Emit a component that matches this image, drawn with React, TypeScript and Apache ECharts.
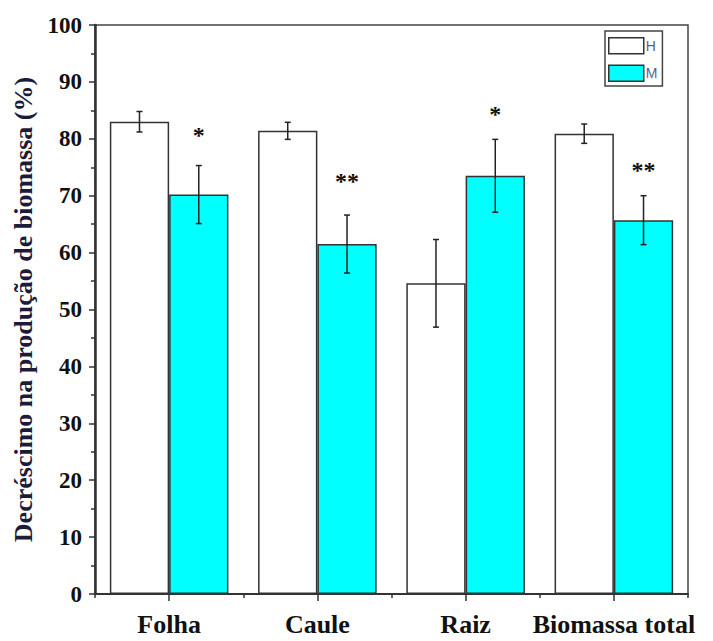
import React, { useEffect, useRef } from "react";
import * as echarts from "echarts";

const categories = ["Folha", "Caule", "Raiz", "Biomassa total"];
const seriesNames = ["H", "M"];
const valuesH = [83.0, 81.4, 54.6, 80.9];
const errorsH = [1.8, 1.5, 7.7, 1.7];
const valuesM = [70.2, 61.5, 73.5, 65.7];
const errorsM = [5.1, 5.1, 6.4, 4.3];
const starText = ["*", "**", "*", "**"];
const starLevels = [81.4, 73.2, 85.1, 75.2];
const yTicks = { min: 0, max: 100, interval: 10 };

const SERIF = "'Liberation Serif', 'Times New Roman', serif";

export default function App() {
  const ref = useRef<HTMLDivElement>(null);
  useEffect(() => {
    if (!ref.current) return;
    const chart = echarts.init(ref.current, null, { renderer: "svg" });

    const errData = (vals: number[], errs: number[]) =>
      vals.map((v, i) => [i, v, v - errs[i], v + errs[i]]);

    const errorRender = (side: number) => (params: any, api: any) => {
      const i = api.value(0);
      const band = api.size([1, 0])[0];
      const cx = api.coord([i, 0])[0] + side * band * 0.2;
      const lo = api.coord([i, api.value(2)])[1];
      const hi = api.coord([i, api.value(3)])[1];
      const cap = 3;
      const st = { stroke: "#222", lineWidth: 1.5 };
      return {
        type: "group",
        children: [
          { type: "line", shape: { x1: cx, y1: lo, x2: cx, y2: hi }, style: st },
          { type: "line", shape: { x1: cx - cap, y1: lo, x2: cx + cap, y2: lo }, style: st },
          { type: "line", shape: { x1: cx - cap, y1: hi, x2: cx + cap, y2: hi }, style: st },
        ],
      };
    };

    chart.setOption({
      animation: false,
      grid: {
        left: 95,
        right: 25,
        top: 25,
        bottom: 47,
        show: true,
        borderColor: "#444",
        borderWidth: 1.5,
        backgroundColor: "transparent",
      },
      legend: {
        data: seriesNames,
        orient: "vertical",
        left: 605,
        top: 31,
        icon: "rect",
        itemWidth: 35,
        itemHeight: 16,
        itemGap: 10,
        padding: [6, 5, 4, 3],
        borderColor: "#444",
        borderWidth: 1.5,
        textStyle: { fontSize: 14, color: "#56648c", fontFamily: "'Liberation Sans', Arial, sans-serif", padding: [0, 0, 0, -3] },
        itemStyle: { borderColor: "#333", borderWidth: 1.5 },
      },
      xAxis: [
        {
          type: "category",
          data: categories,
          position: "bottom",
          axisLine: { show: true, lineStyle: { color: "#333", width: 2 } },
          axisTick: { show: true, alignWithLabel: true, length: 7, lineStyle: { color: "#333", width: 1.5 } },
          axisLabel: {
            interval: 0,
            hideOverlap: false,
            fontFamily: SERIF,
            fontWeight: "bold",
            fontSize: 26,
            color: "#111",
            margin: 17,
          },
        },
        {
          type: "category",
          data: categories,
          position: "bottom",
          axisLine: { show: false },
          axisTick: { show: true, length: 4, lineStyle: { color: "#333", width: 1.5 } },
          axisLabel: { show: false },
        },
      ],
      yAxis: {
        type: "value",
        min: yTicks.min,
        max: yTicks.max,
        interval: yTicks.interval,
        name: "Decréscimo na produção de biomassa (%)",
        nameLocation: "middle",
        nameGap: 58,
        nameTextStyle: {
          fontFamily: SERIF,
          fontWeight: "bold",
          fontSize: 26,
          color: "#1c1c3a",
        },
        axisLine: { show: true, lineStyle: { color: "#333", width: 2.5 } },
        axisTick: { show: true, length: 6, lineStyle: { color: "#333", width: 1.5 } },
        minorTick: { show: true, splitNumber: 2, length: 4, lineStyle: { color: "#333", width: 1.5 } },
        splitLine: { show: false },
        axisLabel: {
          fontFamily: SERIF,
          fontWeight: "bold",
          fontSize: 23,
          color: "#111",
          margin: 13,
        },
      },
      series: [
        {
          name: "H",
          type: "bar",
          data: valuesH,
          barGap: "0%",
          barCategoryGap: "20%",
          itemStyle: { color: "#ffffff", borderColor: "#333", borderWidth: 1.5 },
        },
        {
          name: "M",
          type: "bar",
          data: valuesM,
          barGap: "0%",
          barCategoryGap: "20%",
          itemStyle: { color: "#00ffff", borderColor: "#333", borderWidth: 1.5 },
        },
        {
          type: "custom",
          data: errData(valuesH, errorsH),
          renderItem: errorRender(-1),
          z: 10,
        },
        {
          type: "custom",
          data: errData(valuesM, errorsM),
          renderItem: errorRender(1),
          z: 10,
        },
        {
          type: "custom",
          data: starLevels.map((v, i) => [i, v]),
          z: 10,
          renderItem: (params: any, api: any) => {
            const i = api.value(0);
            const band = api.size([1, 0])[0];
            const p = api.coord([i, api.value(1)]);
            return {
              type: "text",
              x: p[0] + band * 0.2,
              y: p[1] + 4,
              style: {
                text: starText[i],
                fontFamily: SERIF,
                fontWeight: "bold",
                fontSize: 24,
                fill: "#111",
                align: "center",
                verticalAlign: "middle",
              },
            };
          },
        },
      ],
    });
    return () => chart.dispose();
  }, []);
  return (
    <div
      ref={ref}
      style={{ position: "absolute", left: 0, top: 0, width: 713, height: 641 }}
    />
  );
}
